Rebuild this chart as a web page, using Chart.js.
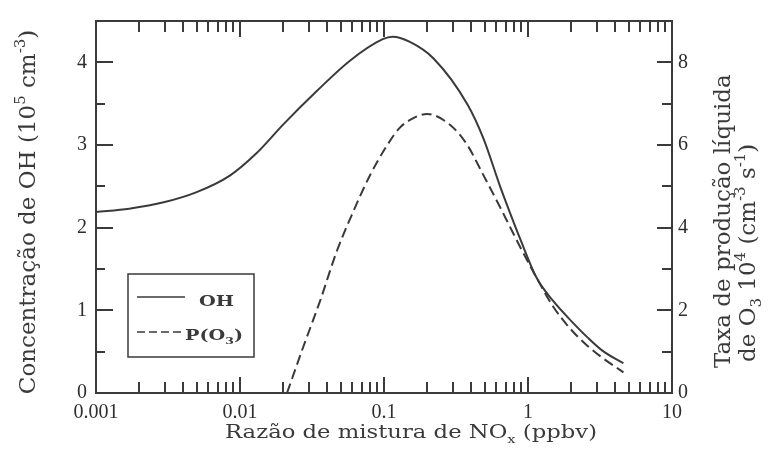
<!DOCTYPE html>
<html>
<head>
<meta charset="utf-8">
<script src="https://cdn.jsdelivr.net/npm/chart.js@4"></script>
<style>
  html, body { margin: 0; padding: 0; background: #fff; }
  #wrap { width: 769px; height: 466px; }
</style>
</head>
<body>
<div id="wrap"><canvas id="chart" width="769" height="466"></canvas></div>
<script>
// NOx mixing ratio (ppbv) and readings
const ohX = [0.001, 0.0017, 0.003, 0.005, 0.0085, 0.013, 0.02, 0.034, 0.058, 0.098, 0.115, 0.15, 0.22, 0.38, 0.49, 0.64, 0.75, 0.88, 1.15, 1.5, 2.0, 2.6, 3.3, 4.6];
const ohValues = [2.19, 2.23, 2.31, 2.43, 2.63, 2.90, 3.25, 3.65, 4.02, 4.28, 4.31, 4.25, 4.05, 3.49, 3.08, 2.50, 2.18, 1.87, 1.39, 1.11, 0.87, 0.67, 0.51, 0.36];
const po3X = [0.0212, 0.0274, 0.036, 0.047, 0.061, 0.080, 0.105, 0.129, 0.16, 0.199, 0.287, 0.377, 0.487, 0.639, 0.75, 0.88, 1.15, 1.49, 1.96, 2.57, 3.32, 4.6];
const po3Values = [0, 1.10, 2.23, 3.43, 4.38, 5.27, 5.99, 6.42, 6.65, 6.75, 6.49, 6.01, 5.29, 4.50, 4.02, 3.54, 2.78, 2.10, 1.56, 1.15, 0.84, 0.50];

// tick positions
const decades = [0.001, 0.01, 0.1, 1];
const xTickValues = [];
decades.forEach(d => { for (let m = 1; m <= 9; m++) xTickValues.push(+(m * d).toPrecision(3)); });
xTickValues.push(10);
const leftTickValues = [0.5, 1, 1.5, 2, 2.5, 3, 3.5, 4];
const leftLabels = [0, 1, 2, 3, 4];
const rightTickValues = [1, 2, 3, 4, 5, 6, 7, 8];
const rightLabels = [0, 2, 4, 6, 8];

const INK = '#3a3a3a';
const isDecade = v => Math.abs(Math.log10(v) - Math.round(Math.log10(v))) < 1e-9;

function richWidth(ctx, parts, size, family, weight) {
    let w = 0;
    parts.forEach(p => {
        ctx.font = `${weight} ${p.s ? size * 0.65 : size}px ${family}`;
        w += ctx.measureText(p.t).width;
    });
    return w;
}

// draws text with super/subscripts; optional rotation, centering, width stretch
function drawRich(ctx, parts, x, y, opt) {
    const size = opt.size, family = opt.family, weight = opt.weight || 'normal';
    const natural = richWidth(ctx, parts, size, family, weight);
    const sx = opt.width ? opt.width / natural : 1;
    ctx.save();
    ctx.translate(x, y);
    if (opt.rotate) ctx.rotate(opt.rotate);
    if (opt.center) ctx.translate(-natural * sx / 2, 0);
    ctx.scale(sx, 1);
    ctx.fillStyle = opt.color || INK;
    ctx.textAlign = 'left';
    ctx.textBaseline = 'alphabetic';
    let cx = 0;
    parts.forEach(p => {
        ctx.font = `${weight} ${p.s ? size * 0.65 : size}px ${family}`;
        const dy = p.s === 'sup' ? -size * 0.42 : p.s === 'sub' ? size * 0.25 : 0;
        ctx.fillText(p.t, cx, dy);
        cx += ctx.measureText(p.t).width;
    });
    ctx.restore();
}

// inward tick marks on all four sides
function drawTicks(chart) {
    const ctx = chart.ctx;
    const a = chart.chartArea;
    const xs = chart.scales.x, ys = chart.scales.y, ys2 = chart.scales.y2;
    ctx.save();
    ctx.fillStyle = INK;
    xTickValues.forEach(v => {
        const px = Math.round(xs.getPixelForValue(v));
        if (!isFinite(px) || px < a.left + 2 || px > a.right - 2) return;
        const len = isDecade(v) ? 16 : 11;
        ctx.fillRect(px - 1, a.bottom - len, 2, len);
        ctx.fillRect(px - 1, a.top, 2, len);
    });
    leftTickValues.forEach(v => {
        const py = Math.round(ys.getPixelForValue(v));
        if (!isFinite(py)) return;
        const len = Number.isInteger(v) ? 17 : 9;
        ctx.fillRect(a.left, py - 1, len, 2);
    });
    rightTickValues.forEach(v => {
        const py = Math.round(ys2.getPixelForValue(v));
        if (!isFinite(py)) return;
        const len = v % 2 === 0 ? 15 : 10;
        ctx.fillRect(a.right - len, py - 1, len, 2);
    });
    ctx.restore();
}

const tickMarks = {
    id: 'tickMarks',
    beforeDatasetsDraw(chart) { drawTicks(chart); }
};

const frameAndText = {
    id: 'frameAndText',
    afterDraw(chart) {
        const ctx = chart.ctx;
        const a = chart.chartArea;
        drawTicks(chart);

        ctx.save();
        ctx.strokeStyle = INK;
        ctx.setLineDash([]);
        ctx.lineWidth = 2;
        ctx.strokeRect(a.left, a.top, a.right - a.left, a.bottom - a.top);

        // legend box
        ctx.lineWidth = 1.5;
        ctx.strokeRect(128, 274, 126, 83);
        ctx.beginPath();
        ctx.moveTo(137, 297); ctx.lineTo(185, 297);
        ctx.stroke();
        ctx.setLineDash([8, 4]);
        ctx.beginPath();
        ctx.moveTo(137, 332); ctx.lineTo(183, 332);
        ctx.stroke();
        ctx.restore();

        const serif = '"DejaVu Serif", serif';
        drawRich(ctx, [{ t: 'OH' }], 199, 306, { size: 15, family: serif, weight: 'bold', width: 35 });
        drawRich(ctx, [{ t: 'P(O' }, { t: '3', s: 'sub' }, { t: ')' }], 185, 340,
            { size: 15, family: serif, weight: 'bold', width: 58 });

        // axis titles
        drawRich(ctx, [
            { t: 'Concentração de OH (10' }, { t: '5', s: 'sup' }, { t: ' cm' }, { t: '-3', s: 'sup' }, { t: ')' }
        ], 35, 212, { size: 23, family: serif, rotate: -Math.PI / 2, center: true });
        drawRich(ctx, [{ t: 'Taxa de produção líquida' }], 730, 368,
            { size: 23, family: serif, rotate: -Math.PI / 2 });
        drawRich(ctx, [
            { t: 'de O' }, { t: '3', s: 'sub' }, { t: ' 10' }, { t: '4', s: 'sup' }, { t: ' (cm' },
            { t: '-3', s: 'sup' }, { t: ' s' }, { t: '-1', s: 'sup' }, { t: ')' }
        ], 755, 362, { size: 23, family: serif, rotate: -Math.PI / 2 });
        drawRich(ctx, [{ t: 'Razão de mistura de NO' }, { t: 'x', s: 'sub' }, { t: ' (ppbv)' }],
            225, 438, { size: 18, family: serif, width: 372 });
    }
};

const tickFont = { family: '"Liberation Serif", serif', size: 20 };

new Chart(document.getElementById('chart'), {
    type: 'line',
    data: {
        datasets: [{
            label: 'OH',
            data: ohX.map((x, i) => ({ x: x, y: ohValues[i] })),
            yAxisID: 'y',
            borderColor: INK,
            borderWidth: 2,
            pointRadius: 0,
            cubicInterpolationMode: 'monotone',
            fill: false
        }, {
            label: 'P(O3)',
            data: po3X.map((x, i) => ({ x: x, y: po3Values[i] })),
            yAxisID: 'y2',
            borderColor: INK,
            borderWidth: 2,
            borderDash: [10, 5],
            pointRadius: 0,
            cubicInterpolationMode: 'monotone',
            fill: false
        }]
    },
    options: {
        responsive: false,
        animation: false,
        layout: { padding: { top: 16, left: 0, right: 0, bottom: 0 } },
        plugins: { legend: { display: false }, tooltip: { enabled: false } },
        scales: {
            x: {
                type: 'logarithmic',
                min: 0.001,
                max: 10,
                grid: { display: false, drawTicks: false },
                border: { display: false },
                afterBuildTicks: s => { s.ticks = xTickValues.map(v => ({ value: v })); },
                afterFit: s => { s.height = 73; },
                ticks: {
                    autoSkip: false,
                    maxRotation: 0,
                    padding: 8,
                    color: '#2e2e2e',
                    font: tickFont,
                    callback: v => isDecade(v) ? String(v) : ''
                }
            },
            y: {
                position: 'left',
                min: 0,
                max: 4.5,
                grid: { display: false, drawTicks: false },
                border: { display: false },
                afterBuildTicks: s => { s.ticks = leftLabels.map(v => ({ value: v })); },
                afterFit: s => { s.width = 96; },
                ticks: { padding: 9, color: '#2e2e2e', font: tickFont }
            },
            y2: {
                position: 'right',
                min: 0,
                max: 9,
                grid: { display: false, drawTicks: false },
                border: { display: false },
                afterBuildTicks: s => { s.ticks = rightLabels.map(v => ({ value: v })); },
                afterFit: s => { s.width = 97; },
                ticks: { padding: 6, color: '#2e2e2e', font: tickFont }
            }
        }
    },
    plugins: [tickMarks, frameAndText]
});
</script>
</body>
</html>
